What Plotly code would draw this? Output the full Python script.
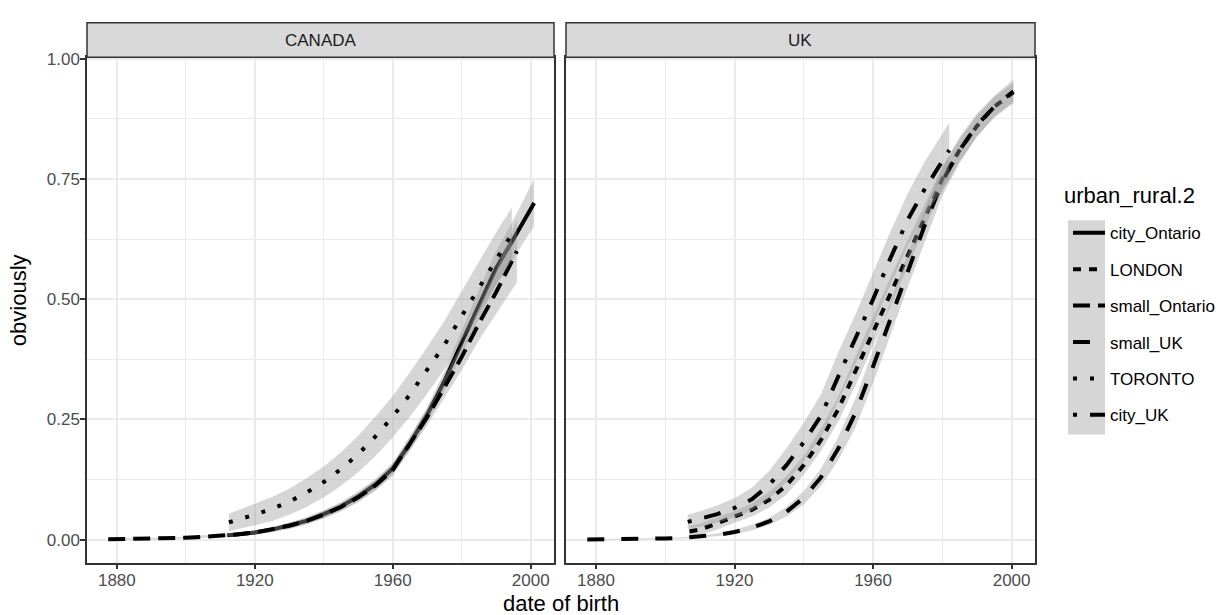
import plotly.graph_objects as go

# ---------------- data ----------------
# CANADA panel
city_Ontario_x = [1912, 1915, 1920, 1925, 1930, 1935, 1940, 1945, 1950, 1955, 1960, 1965, 1970, 1975, 1980, 1985, 1990, 1995, 2001]
city_Ontario_y = [0.009, 0.011, 0.015, 0.021, 0.029, 0.039, 0.053, 0.069, 0.09, 0.115, 0.148, 0.2, 0.26, 0.33, 0.41, 0.49, 0.565, 0.625, 0.70]
city_Ontario_lo = [0.005, 0.007, 0.011, 0.016, 0.023, 0.032, 0.045, 0.06, 0.08, 0.104, 0.136, 0.186, 0.244, 0.31, 0.386, 0.46, 0.53, 0.585, 0.652]
city_Ontario_hi = [0.013, 0.015, 0.019, 0.026, 0.035, 0.046, 0.061, 0.078, 0.1, 0.126, 0.16, 0.214, 0.276, 0.35, 0.434, 0.52, 0.60, 0.665, 0.75]

small_Ontario_x = [1877.5, 1885, 1890, 1895, 1900, 1905, 1910, 1915, 1920, 1925, 1930, 1935, 1940, 1945, 1950, 1955, 1960, 1965, 1970, 1975, 1980, 1985, 1990, 1996]
small_Ontario_y = [0.001, 0.0015, 0.002, 0.003, 0.004, 0.006, 0.008, 0.011, 0.015, 0.021, 0.029, 0.039, 0.052, 0.068, 0.088, 0.113, 0.145, 0.2, 0.255, 0.317, 0.38, 0.45, 0.515, 0.60]
small_Ontario_lo = [0.0, 0.0005, 0.001, 0.0015, 0.002, 0.0035, 0.005, 0.0075, 0.011, 0.016, 0.023, 0.032, 0.044, 0.059, 0.078, 0.102, 0.133, 0.186, 0.238, 0.296, 0.353, 0.415, 0.47, 0.535]
small_Ontario_hi = [0.002, 0.0025, 0.003, 0.0045, 0.006, 0.0085, 0.011, 0.0145, 0.019, 0.026, 0.035, 0.046, 0.06, 0.077, 0.098, 0.124, 0.157, 0.214, 0.272, 0.338, 0.407, 0.485, 0.56, 0.665]

TORONTO_x = [1912.5, 1915, 1920, 1925, 1930, 1935, 1940, 1945, 1950, 1955, 1960, 1965, 1970, 1975, 1980, 1985, 1990, 1994.5]
TORONTO_y = [0.036, 0.041, 0.052, 0.064, 0.079, 0.098, 0.12, 0.147, 0.178, 0.215, 0.256, 0.302, 0.352, 0.405, 0.465, 0.525, 0.585, 0.635]
TORONTO_lo = [0.018, 0.021, 0.030, 0.039, 0.052, 0.068, 0.088, 0.112, 0.140, 0.174, 0.213, 0.256, 0.304, 0.355, 0.413, 0.472, 0.531, 0.58]
TORONTO_hi = [0.054, 0.061, 0.074, 0.089, 0.106, 0.128, 0.152, 0.182, 0.216, 0.256, 0.299, 0.348, 0.400, 0.455, 0.517, 0.578, 0.639, 0.69]

# UK panel
LONDON_x = [1907, 1910, 1915, 1920, 1925, 1930, 1935, 1940, 1945, 1950, 1955, 1960, 1965, 1970, 1975, 1980, 1985, 1990, 1995, 2000.5]
LONDON_y = [0.017, 0.021, 0.034, 0.047, 0.062, 0.083, 0.113, 0.155, 0.208, 0.272, 0.352, 0.435, 0.515, 0.595, 0.675, 0.75, 0.81, 0.86, 0.90, 0.93]
LONDON_lo = [0.005, 0.009, 0.021, 0.035, 0.048, 0.067, 0.094, 0.135, 0.185, 0.246, 0.322, 0.405, 0.485, 0.567, 0.65, 0.725, 0.787, 0.838, 0.88, 0.91]
LONDON_hi = [0.029, 0.033, 0.047, 0.059, 0.076, 0.099, 0.132, 0.175, 0.231, 0.298, 0.382, 0.465, 0.545, 0.623, 0.70, 0.775, 0.833, 0.882, 0.92, 0.95]

small_UK_x = [1877.5, 1885, 1890, 1895, 1900, 1905, 1910, 1915, 1920, 1925, 1930, 1935, 1940, 1945, 1950, 1955, 1960, 1965, 1970, 1975, 1980, 1985, 1990, 1995, 2000.5]
small_UK_y = [0.0004, 0.0008, 0.0012, 0.0018, 0.0027, 0.004, 0.0065, 0.010, 0.016, 0.025, 0.038, 0.058, 0.087, 0.13, 0.19, 0.265, 0.36, 0.46, 0.56, 0.655, 0.745, 0.81, 0.862, 0.90, 0.932]
small_UK_lo = [0.0, 0.0003, 0.0006, 0.001, 0.0017, 0.0027, 0.0045, 0.0072, 0.012, 0.019, 0.031, 0.048, 0.073, 0.112, 0.166, 0.235, 0.326, 0.425, 0.525, 0.622, 0.715, 0.783, 0.838, 0.877, 0.908]
small_UK_hi = [0.0008, 0.0013, 0.0018, 0.0026, 0.0037, 0.0053, 0.0085, 0.0128, 0.020, 0.031, 0.045, 0.068, 0.101, 0.148, 0.214, 0.295, 0.394, 0.495, 0.595, 0.688, 0.775, 0.837, 0.886, 0.923, 0.956]

city_UK_x = [1906.5, 1910, 1915, 1920, 1925, 1930, 1935, 1940, 1945, 1950, 1955, 1960, 1965, 1970, 1975, 1982]
city_UK_y = [0.037, 0.043, 0.053, 0.066, 0.084, 0.114, 0.155, 0.203, 0.258, 0.34, 0.418, 0.50, 0.585, 0.665, 0.73, 0.81]
city_UK_lo = [0.022, 0.027, 0.035, 0.046, 0.060, 0.085, 0.12, 0.163, 0.213, 0.29, 0.366, 0.445, 0.53, 0.61, 0.673, 0.75]
city_UK_hi = [0.052, 0.059, 0.071, 0.086, 0.108, 0.143, 0.19, 0.243, 0.303, 0.39, 0.47, 0.555, 0.64, 0.72, 0.787, 0.867]

panels = ["CANADA", "UK"]
legend_title = "urban_rural.2"
legend_order = ["city_Ontario", "LONDON", "small_Ontario", "small_UK", "TORONTO", "city_UK"]
x_ticks = [1880, 1920, 1960, 2000]
x_minor = [1900, 1940, 1980]
y_ticks = [0.0, 0.25, 0.5, 0.75, 1.0]
y_ticktext = ["0.00", "0.25", "0.50", "0.75", "1.00"]
y_minor = [0.125, 0.375, 0.625, 0.875]

series = [
    # name, panel, x, y, lo, hi
    ("city_Ontario", "CANADA", city_Ontario_x, city_Ontario_y, city_Ontario_lo, city_Ontario_hi),
    ("small_Ontario", "CANADA", small_Ontario_x, small_Ontario_y, small_Ontario_lo, small_Ontario_hi),
    ("TORONTO", "CANADA", TORONTO_x, TORONTO_y, TORONTO_lo, TORONTO_hi),
    ("LONDON", "UK", LONDON_x, LONDON_y, LONDON_lo, LONDON_hi),
    ("small_UK", "UK", small_UK_x, small_UK_y, small_UK_lo, small_UK_hi),
    ("city_UK", "UK", city_UK_x, city_UK_y, city_UK_lo, city_UK_hi),
]

# ---------------- styles ----------------
dashes = {
    "city_Ontario": "solid",
    "LONDON": "8px,8px",
    "small_Ontario": "17px,8px",
    "small_UK": "17px,17px",
    "TORONTO": "4px,13px",
    "city_UK": "4px,13px,17px,13px",
}
W, H = 1230, 615
FONT = "Liberation Sans, Arial, Helvetica, sans-serif"
px_x = lambda p: p / W
px_y = lambda p: 1 - p / H

left_dom = [px_x(87), px_x(554)]
right_dom = [px_x(566), px_x(1035)]
y_dom = [px_y(562), px_y(50)]

fig = go.Figure()
for name, panel, xs, ys, lo, hi in series:
    xa = "x" if panel == "CANADA" else "x2"
    ya = "y" if panel == "CANADA" else "y2"
    fig.add_trace(go.Scatter(
        x=list(xs) + list(xs)[::-1], y=list(hi) + list(lo)[::-1],
        xaxis=xa, yaxis=ya, mode="lines", fill="toself",
        fillcolor="rgba(153,153,153,0.4)", line=dict(width=0),
        showlegend=False, hoverinfo="skip"))
    fig.add_trace(go.Scatter(
        x=xs, y=ys, xaxis=xa, yaxis=ya, mode="lines", name=name,
        line=dict(color="black", width=4, dash=dashes[name]),
        legendrank=legend_order.index(name) + 1,
        legendgroup=name))

x_range = [1871.35, 2006.75]
y_range = [-0.0478, 1.0028]

axis_common = dict(
    showline=True, mirror=True, linecolor="#333333", linewidth=1.5,
    showgrid=True, gridcolor="#EBEBEB", gridwidth=2, zeroline=False,
    ticks="outside", ticklen=5, tickwidth=1.5, tickcolor="#333333",
    tickfont=dict(family=FONT, size=17, color="#4D4D4D"),
)
xaxis_cfg = dict(axis_common, range=x_range, tickvals=x_ticks, ticklabelstandoff=-4,
                 minor=dict(tickvals=x_minor, showgrid=True, gridcolor="#EBEBEB", gridwidth=1, ticks=""))
yaxis_cfg = dict(axis_common, range=y_range, tickvals=y_ticks, ticktext=y_ticktext, ticklabelstandoff=-3,
                 minor=dict(tickvals=y_minor, showgrid=True, gridcolor="#EBEBEB", gridwidth=1, ticks=""))

fig.update_layout(
    width=W, height=H, autosize=False,
    margin=dict(l=0, r=0, t=0, b=0),
    paper_bgcolor="white", plot_bgcolor="white",
    xaxis=dict(xaxis_cfg, domain=left_dom, anchor="y"),
    xaxis2=dict(xaxis_cfg, domain=right_dom, anchor="y2"),
    yaxis=dict(yaxis_cfg, domain=y_dom, anchor="x"),
    yaxis2=dict(yaxis_cfg, domain=y_dom, anchor="x2", showticklabels=False, ticks=""),
    legend=dict(
        x=px_x(1068), y=px_y(210), xanchor="left", yanchor="top",
        bgcolor="rgba(0,0,0,0)", borderwidth=0,
        font=dict(family=FONT, size=17, color="black"),
        tracegroupgap=11.3, itemwidth=32,
    ),
    showlegend=True,
)

shapes = []
annotations = []
for dom, label in zip([left_dom, right_dom], panels):
    shapes.append(dict(type="rect", xref="paper", yref="paper",
                       x0=dom[0], x1=dom[1], y0=px_y(50), y1=px_y(15),
                       fillcolor="#D9D9D9", line=dict(color="#333333", width=1.5), layer="above"))
    annotations.append(dict(text=label, xref="paper", yref="paper",
                            x=(dom[0] + dom[1]) / 2, y=px_y(32.5), showarrow=False,
                            xanchor="center", yanchor="middle",
                            font=dict(family=FONT, size=17, color="#1A1A1A")))
# legend key background (grey ribbon keys)
shapes.append(dict(type="rect", xref="paper", yref="paper",
                   x0=px_x(1068), x1=px_x(1105), y0=px_y(432), y1=px_y(215),
                   fillcolor="#D6D6D6", line=dict(width=0), layer="below"))
annotations.append(dict(text=legend_title, xref="paper", yref="paper", x=px_x(1062), y=px_y(190),
                        showarrow=False, xanchor="left", yanchor="middle",
                        font=dict(family=FONT, size=22, color="black")))
annotations.append(dict(text="obviously", xref="paper", yref="paper", x=px_x(18), y=px_y(296),
                        textangle=-90, showarrow=False, xanchor="center", yanchor="middle",
                        font=dict(family=FONT, size=22, color="black")))
annotations.append(dict(text="date of birth", xref="paper", yref="paper", x=px_x(561), y=px_y(603),
                        showarrow=False, xanchor="center", yanchor="middle",
                        font=dict(family=FONT, size=22, color="black")))
fig.update_layout(shapes=shapes, annotations=annotations)

fig.write_html("out.html")
